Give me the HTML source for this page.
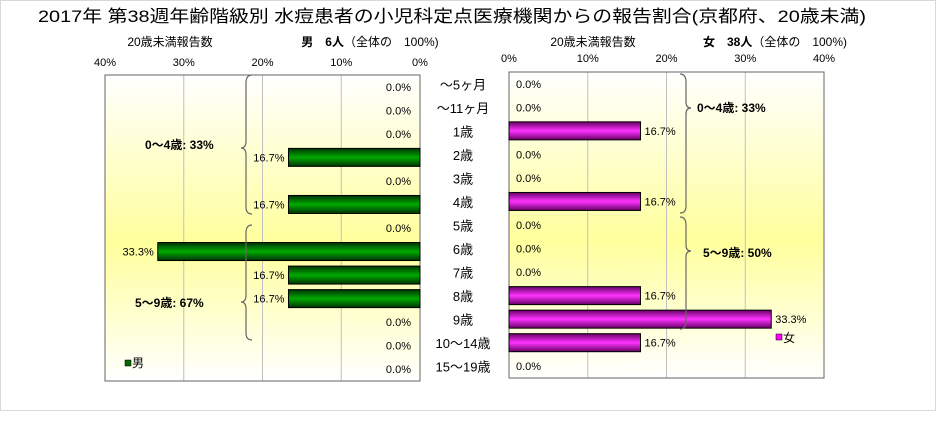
<!DOCTYPE html>
<html><head><meta charset="utf-8"><style>
body{margin:0;background:#fff;width:944px;height:417px;overflow:hidden;font-family:"Liberation Sans","Noto Sans CJK JP",sans-serif;}
svg text{font-family:"Liberation Sans","Noto Sans CJK JP",sans-serif;}
</style></head><body>
<svg width="944" height="417" xmlns="http://www.w3.org/2000/svg" id="chart">
<defs>
<linearGradient id="bg" x1="0" y1="0" x2="0" y2="1">
<stop offset="0" stop-color="#ffffff"/><stop offset="0.55" stop-color="#ffff9c"/><stop offset="1" stop-color="#ffffff"/>
</linearGradient>
<linearGradient id="gm" x1="0" y1="0" x2="0" y2="1">
<stop offset="0" stop-color="#003300"/><stop offset="0.5" stop-color="#00aa00"/><stop offset="1" stop-color="#003300"/>
</linearGradient>
<linearGradient id="gf" x1="0" y1="0" x2="0" y2="1">
<stop offset="0" stop-color="#660066"/><stop offset="0.5" stop-color="#ff33ff"/><stop offset="1" stop-color="#660066"/>
</linearGradient>
</defs>
<rect x="0.5" y="0.5" width="935" height="410" fill="#fff" stroke="#d8d8d8"/>
<text x="38" y="22" font-size="17" textLength="828" lengthAdjust="spacingAndGlyphs">2017年 第38週年齢階級別 水痘患者の小児科定点医療機関からの報告割合(京都府、20歳未満)</text>
<text x="170" y="46" font-size="12" text-anchor="middle">20歳未満報告数</text>
<text x="370" y="46" font-size="12" text-anchor="middle"><tspan font-weight="bold">男　6人</tspan>（全体の　100%)</text>
<text x="593" y="46" font-size="12" text-anchor="middle">20歳未満報告数</text>
<text x="775" y="46" font-size="12" text-anchor="middle"><tspan font-weight="bold">女　38人</tspan>（全体の　100%)</text>
<rect x="105" y="75" width="315" height="306" fill="url(#bg)"/>
<rect x="509" y="72" width="315" height="306" fill="url(#bg)"/>
<g id="layer"></g>
<g stroke="#666" fill="none" stroke-width="1.2">
<path d="M252,75 q-6,0 -6,8 v58 q0,7 -5,7 q5,0 5,7 v52 q0,7 6,7"/>
<path d="M252,225 q-6,0 -6,8 v62 q0,7 -5,7 q5,0 5,7 v24 q0,7 6,7"/>
<path d="M680,74 q6,0 6,8 v20 q0,6 5,6 q-5,0 -5,6 v92 q0,7 -6,7"/>
<path d="M680,217 q6,0 6,8 v20 q0,6 5,6 q-5,0 -5,6 v65 q0,7 -6,7"/>
</g>
<text x="145" y="149" font-size="12" font-weight="bold">0～4歳: 33%</text>
<text x="135" y="307" font-size="12" font-weight="bold">5～9歳: 67%</text>
<text x="697" y="112" font-size="12" font-weight="bold">0～4歳: 33%</text>
<text x="703" y="257" font-size="12" font-weight="bold">5～9歳: 50%</text>
<rect x="125" y="360" width="6" height="6" fill="#006600" stroke="#000" stroke-width="0.5"/>
<text x="132" y="367" font-size="12">男</text>
<rect x="776" y="334" width="6" height="6" fill="#ff00ff" stroke="#000" stroke-width="0.5"/>
<text x="783" y="342" font-size="12">女</text>
</svg>
<script>
const categories=["～5ヶ月","～11ヶ月","1歳","2歳","3歳","4歳","5歳","6歳","7歳","8歳","9歳","10～14歳","15～19歳"];
const maleValues=[0,0,0,16.7,0,16.7,0,33.3,16.7,16.7,0,0,0];
const femaleValues=[0,0,16.7,0,0,16.7,0,0,0,16.7,33.3,16.7,0];
const tickValues=[0,10,20,30,40];
const tickLabels=["0%","10%","20%","30%","40%"];
const NS="http://www.w3.org/2000/svg";
const layer=document.getElementById('layer');
const L={x0:420,y0:75,h:306},R={x0:509,y0:72,h:306};
const pxPer=315/40;
function xm(v){return L.x0-v*pxPer;}
function xf(v){return R.x0+v*pxPer;}
const rowH=306/categories.length;
function yl(i){return L.y0+rowH*(i+0.5);}
function yr(i){return R.y0+rowH*(i+0.5);}
function mk(tag,attrs,parent){const e=document.createElementNS(NS,tag);for(const k in attrs)e.setAttribute(k,attrs[k]);(parent||layer).appendChild(e);return e;}
tickValues.forEach((v,i)=>{
 let g=mk('line',{x1:xm(v),x2:xm(v),y1:L.y0,y2:L.y0+L.h,stroke:'#c0c0c0'});
 
 
 let g2=mk('line',{x1:xf(v),x2:xf(v),y1:R.y0,y2:R.y0+R.h,stroke:'#c0c0c0'});
 
 
 let t=mk('text',{x:xm(v),y:66,'font-size':11,'text-anchor':'middle'});t.textContent=tickLabels[i];
 
 
 let t2=mk('text',{x:xf(v),y:62,'font-size':11,'text-anchor':'middle'});t2.textContent=tickLabels[i];
 
 
});
let b1=mk('rect',{x:105,y:75,width:315,height:306,fill:'none',stroke:'#666'});


let b2=mk('rect',{x:509,y:72,width:315,height:306,fill:'none',stroke:'#666'});


const bh=18;
categories.forEach((c,i)=>{
 const mv=maleValues[i],fv=femaleValues[i];
 if(mv>0){let r=mk('rect',{x:xm(mv),y:yl(i)-bh/2,width:L.x0-xm(mv),height:bh,fill:'url(#gm)',stroke:'#000'});
  
  }
 let ml=mk('text',{x:mv>0?xm(mv)-4:411,y:yl(i)+4,'font-size':11,'text-anchor':'end'});ml.textContent=mv.toFixed(1)+'%';
 
 
 if(fv>0){let r=mk('rect',{x:R.x0,y:yr(i)-bh/2,width:xf(fv)-R.x0,height:bh,fill:'url(#gf)',stroke:'#000'});
  
  }
 let fl=mk('text',{x:fv>0?xf(fv)+4:516,y:yr(i)+4,'font-size':11,'text-anchor':'start'});fl.textContent=fv.toFixed(1)+'%';
 
 
 let cl=mk('text',{x:463,y:(yl(i)+yr(i))/2+4,'font-size':13,'text-anchor':'middle'});cl.textContent=c;
 
 
});
</script>
</body></html>
